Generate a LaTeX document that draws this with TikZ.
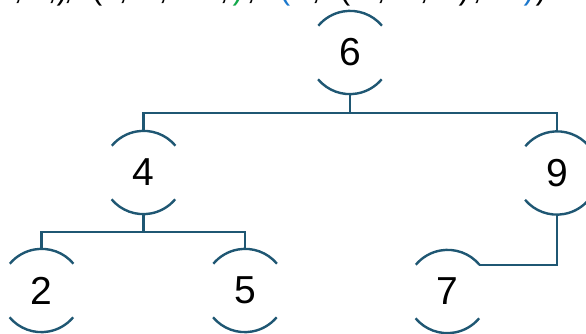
\documentclass[tikz,border=0pt]{standalone}
\usepackage{fontspec}
\setmainfont{Liberation Sans}
\definecolor{edge}{HTML}{1F5773}
\definecolor{tgreen}{HTML}{12A84A}
\definecolor{tblue}{HTML}{1C78CC}
\newcommand\treearcs[1]{%
  \draw[edgeline] (#1.40) arc[start angle=40,end angle=140,radius=41.5pt];
  \draw[edgeline] (#1.220) arc[start angle=220,end angle=320,radius=41.5pt];}
\begin{document}
\begin{tikzpicture}[x=1pt,y=-1pt,
  tn/.style={circle,minimum size=83pt,inner sep=0pt,font=\fontsize{39}{39}\selectfont},
  edgeline/.style={draw=edge,line width=2.4pt},
  toptext/.style={anchor=base,inner sep=0pt,font=\fontsize{32}{32}\selectfont}]
\useasboundingbox (0,0) rectangle (586,333);
\begin{scope}
\clip (0,0) rectangle (586,333);
\foreach \x/\c/\col in {18/{,}/black,52/{,}/black,62/{)}/black,68/{,}/black,
  97/{(}/black,123/{,}/black,163/{,}/black,224/{,}/black,238/{)}/tgreen,
  251/{,}/black,285/{(}/tblue,316/{,}/black,345/{(}/black,381/{,}/black,
  424/{,}/black,464/{)}/black,477/{,}/black,529/{)}/tblue,541/{)}/black}
  \node[toptext,text=\col] at (\x,-0.5) {\c};
\end{scope}
\node[tn] (n6) at (350,52.5) {6};
\node[tn] (n4) at (143.5,172.5) {4};
\node[tn] (n9) at (557,173) {9};
\node[tn] (n2) at (41.5,290.5) {2};
\node[tn] (n5) at (245,290.5) {5};
\node[tn] (n7) at (447.5,291.5) {7};
\treearcs{n6}\treearcs{n4}\treearcs{n9}\treearcs{n2}\treearcs{n5}\treearcs{n7}
\coordinate (b1) at (350,113);
\coordinate (b2) at (143.5,232);
\draw[edgeline] (n6.south) -- (b1);
\draw[edgeline] (n4.north) |- (b1) -| (n9.north);
\draw[edgeline] (n4.south) -- (b2);
\draw[edgeline] (n2.north) |- (b2) -| (n5.north);
\draw[edgeline] (n9.south) |- (n7.40);
\end{tikzpicture}
\end{document}
